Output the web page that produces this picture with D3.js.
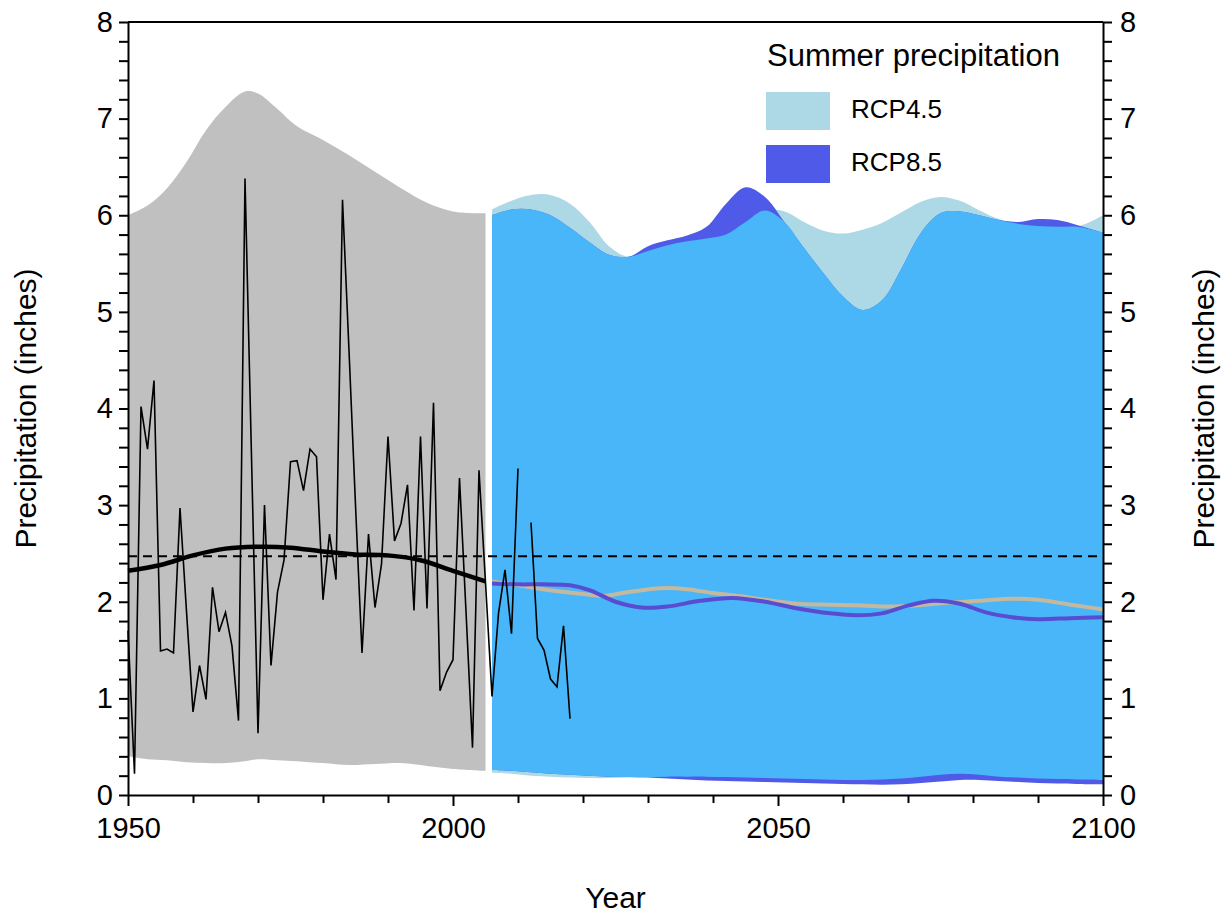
<!DOCTYPE html>
<html>
<head>
<meta charset="utf-8">
<script src="https://cdn.jsdelivr.net/npm/d3@7"></script>
<style>
  body { margin: 0; background: #fff; }
  svg { display: block; font-family: "Liberation Sans", Arial, sans-serif; }
  .axis text { font-size: 29px; fill: #000; font-family: "Liberation Sans", Arial, sans-serif; }
  .axis line, .axis path { stroke: #000; stroke-width: 2; }
  .axis-title { font-size: 30px; fill: #000; }
</style>
</head>
<body>
<div id="chart"></div>
<script>
// Summer precipitation: observed record, historical model range and RCP projections

const WIDTH = 1230
const HEIGHT = 915
const MARGIN = { top: 22, right: 127, bottom: 120, left: 128 }

// observed summer precipitation (inches), 2011 missing
const obsYears = d3.range(1950, 2019)
const obsValues = [
  1.70, 0.22, 4.02, 3.58, 4.29, 1.49, 1.51, 1.47, 2.97, 1.90,
  0.86, 1.34, 0.99, 2.15, 1.69, 1.89, 1.54, 0.77, 6.38, 3.50,
  0.64, 3.00, 1.34, 2.10, 2.43, 3.45, 3.46, 3.15, 3.58, 3.50,
  2.02, 2.70, 2.23, 6.16, 4.60, 3.00, 1.47, 2.70, 1.94, 2.39,
  3.71, 2.63, 2.81, 3.21, 1.91, 3.71, 1.93, 4.06, 1.08, 1.27,
  1.40, 3.28, 1.90, 0.49, 3.36, 2.20, 1.02, 1.88, 2.33, 1.67,
  3.38, null, 2.82, 1.62, 1.50, 1.20, 1.12, 1.75, 0.79
]
const obsMean = 2.47

// historical model range and smoothed observations
const histYears = [1950, 1953, 1956, 1959, 1962, 1965, 1968, 1970, 1973, 1976, 1980, 1984, 1988, 1992, 1996, 2000, 2005]
const histHigh = [6.00, 6.10, 6.28, 6.55, 6.88, 7.12, 7.28, 7.26, 7.10, 6.92, 6.78, 6.62, 6.45, 6.28, 6.13, 6.04, 6.02]
const histLow = [0.40, 0.37, 0.36, 0.34, 0.33, 0.33, 0.35, 0.37, 0.36, 0.35, 0.33, 0.31, 0.32, 0.33, 0.30, 0.27, 0.25]
const smoothYears = [1950, 1955, 1960, 1965, 1970, 1975, 1980, 1985, 1990, 1995, 2000, 2005]
const smoothValues = [2.32, 2.38, 2.48, 2.55, 2.57, 2.56, 2.52, 2.49, 2.48, 2.43, 2.32, 2.21]

// projected ranges
const futYears = [2006, 2009, 2012, 2015, 2018, 2021, 2024, 2027, 2030, 2033, 2036, 2039, 2042, 2045, 2048, 2051,
  2054, 2057, 2060, 2063, 2066, 2069, 2072, 2075, 2078, 2081, 2084, 2087, 2090, 2093, 2096, 2100]
const rcp45High = [6.06, 6.15, 6.21, 6.21, 6.12, 5.93, 5.68, 5.57, 5.63, 5.69, 5.73, 5.76, 5.80, 5.93, 6.05, 6.04,
  5.93, 5.84, 5.81, 5.85, 5.92, 6.03, 6.14, 6.19, 6.15, 6.05, 5.96, 5.91, 5.89, 5.88, 5.88, 6.00]
const rcp45Low = [0.23, 0.22, 0.20, 0.19, 0.18, 0.175, 0.175, 0.18, 0.185, 0.19, 0.19, 0.19, 0.185, 0.18, 0.175, 0.17,
  0.165, 0.16, 0.155, 0.155, 0.16, 0.17, 0.19, 0.21, 0.22, 0.21, 0.19, 0.18, 0.17, 0.165, 0.16, 0.155]
const rcp85High = [6.00, 6.06, 6.06, 6.00, 5.87, 5.72, 5.59, 5.57, 5.68, 5.74, 5.79, 5.88, 6.12, 6.29, 6.19, 5.93,
  5.66, 5.40, 5.16, 5.02, 5.12, 5.45, 5.82, 6.02, 6.04, 6.00, 5.95, 5.93, 5.96, 5.95, 5.90, 5.82]
const rcp85Low = [0.26, 0.25, 0.235, 0.22, 0.21, 0.20, 0.19, 0.185, 0.18, 0.17, 0.16, 0.15, 0.145, 0.14, 0.135, 0.13,
  0.125, 0.12, 0.115, 0.11, 0.105, 0.11, 0.125, 0.14, 0.155, 0.155, 0.145, 0.135, 0.125, 0.12, 0.115, 0.11]

// projected medians
const rcp45MedYears = [2006, 2010, 2015, 2020, 2023, 2027, 2032, 2036, 2040, 2044, 2048, 2053, 2058, 2063, 2067, 2071, 2076, 2081, 2086, 2090, 2095, 2100]
const rcp45Median = [2.21, 2.17, 2.12, 2.08, 2.06, 2.10, 2.14, 2.13, 2.09, 2.06, 2.02, 1.98, 1.97, 1.96, 1.95, 1.96, 1.99, 2.01, 2.03, 2.02, 1.97, 1.92]
const rcp85MedYears = [2006, 2010, 2014, 2018, 2021, 2025, 2029, 2033, 2038, 2043, 2048, 2053, 2058, 2062, 2066, 2070, 2074, 2078, 2082, 2086, 2090, 2095, 2100]
const rcp85Median = [2.19, 2.18, 2.18, 2.17, 2.12, 2.00, 1.94, 1.95, 2.01, 2.04, 2.00, 1.93, 1.88, 1.86, 1.88, 1.96, 2.01, 1.98, 1.89, 1.84, 1.82, 1.83, 1.84]

const COLORS = {
  hist: "#c0c0c0",
  rcp45: "#add8e6",
  rcp85: "#4f5be8",
  both: "#48b6f8",
  med45: "#c4b89e",
  med85: "#5a4cd0"
}

const svg = d3.select("#chart")
  .append("svg")
  .attr("width", WIDTH)
  .attr("height", HEIGHT)

const x = d3.scaleLinear()
  .domain([1950, 2100])
  .range([MARGIN.left, WIDTH - MARGIN.right])

const y = d3.scaleLinear()
  .domain([0, 8])
  .range([HEIGHT - MARGIN.bottom, MARGIN.top])

const smoothCurve = d3.curveCatmullRom.alpha(0.5)

// bands
const band = d3.area()
  .x(d => x(d.year))
  .y0(d => y(d.lo))
  .y1(d => y(d.hi))
  .curve(smoothCurve)

const histBand = histYears.map((yr, i) => ({ year: yr, lo: histLow[i], hi: histHigh[i] }))
const band45 = futYears.map((yr, i) => ({ year: yr, lo: rcp45Low[i], hi: rcp45High[i] }))
const band85 = futYears.map((yr, i) => ({ year: yr, lo: rcp85Low[i], hi: rcp85High[i] }))
const bandBoth = futYears.map((yr, i) => ({
  year: yr,
  lo: Math.max(rcp45Low[i], rcp85Low[i]),
  hi: Math.min(rcp45High[i], rcp85High[i])
}))

svg.append("path").datum(histBand).attr("d", band).attr("fill", COLORS.hist)
svg.append("path").datum(band45).attr("d", band).attr("fill", COLORS.rcp45)
svg.append("path").datum(band85).attr("d", band).attr("fill", COLORS.rcp85)
svg.append("path").datum(bandBoth).attr("d", band).attr("fill", COLORS.both)

// mean of observations
svg.append("line")
  .attr("x1", x(1950)).attr("x2", x(2100))
  .attr("y1", y(obsMean)).attr("y2", y(obsMean))
  .attr("stroke", "#000")
  .attr("stroke-width", 2)
  .attr("stroke-dasharray", "9,6")

const smoothLine = d3.line()
  .x(d => x(d[0]))
  .y(d => y(d[1]))
  .curve(smoothCurve)

svg.append("path")
  .datum(rcp45MedYears.map((yr, i) => [yr, rcp45Median[i]]))
  .attr("d", smoothLine)
  .attr("fill", "none")
  .attr("stroke", COLORS.med45)
  .attr("stroke-width", 4)

svg.append("path")
  .datum(rcp85MedYears.map((yr, i) => [yr, rcp85Median[i]]))
  .attr("d", smoothLine)
  .attr("fill", "none")
  .attr("stroke", COLORS.med85)
  .attr("stroke-width", 4)

svg.append("path")
  .datum(smoothYears.map((yr, i) => [yr, smoothValues[i]]))
  .attr("d", smoothLine)
  .attr("fill", "none")
  .attr("stroke", "#000")
  .attr("stroke-width", 4.5)

// yearly observations
const obsLine = d3.line()
  .defined(d => d[1] !== null)
  .x(d => x(d[0]))
  .y(d => y(d[1]))

svg.append("path")
  .datum(obsYears.map((yr, i) => [yr, obsValues[i]]))
  .attr("d", obsLine)
  .attr("fill", "none")
  .attr("stroke", "#000")
  .attr("stroke-width", 1.6)
  .attr("stroke-linejoin", "miter")

// axes
const xAxis = d3.axisBottom(x)
  .tickValues(d3.range(1950, 2101, 10))
  .tickFormat(d => d % 50 === 0 ? d : "")
  .tickSize(8)
  .tickSizeOuter(0)

const gx = svg.append("g")
  .attr("class", "axis")
  .attr("transform", `translate(0, ${HEIGHT - MARGIN.bottom})`)
  .call(xAxis)
gx.selectAll(".tick line").attr("y2", d => d % 50 === 0 ? 11 : 8)
gx.selectAll(".tick text").attr("y", 22).attr("font-size", 30)

const yTicks = d3.range(0, 41).map(k => k / 5)
const yFormat = d => Math.abs(d - Math.round(d)) < 1e-6 ? d3.format("d")(Math.round(d)) : ""

svg.append("g")
  .attr("class", "axis")
  .attr("transform", `translate(${MARGIN.left}, 0)`)
  .call(d3.axisLeft(y).tickValues(yTicks).tickFormat(yFormat).tickSize(9).tickPadding(6).tickSizeOuter(0))

svg.append("g")
  .attr("class", "axis")
  .attr("transform", `translate(${WIDTH - MARGIN.right}, 0)`)
  .call(d3.axisRight(y).tickValues(yTicks).tickFormat(yFormat).tickSize(9).tickPadding(8).tickSizeOuter(0))

// top border
svg.append("line")
  .attr("x1", x(1950)).attr("x2", x(2100))
  .attr("y1", y(8)).attr("y2", y(8))
  .attr("stroke", "#000")
  .attr("stroke-width", 2)

// axis titles
const midY = (y(0) + y(8)) / 2
svg.append("text")
  .attr("class", "axis-title")
  .attr("text-anchor", "middle")
  .attr("transform", `translate(36, ${midY}) rotate(-90)`)
  .text("Precipitation (inches)")

svg.append("text")
  .attr("class", "axis-title")
  .attr("text-anchor", "middle")
  .attr("transform", `translate(1214, ${midY}) rotate(-90)`)
  .text("Precipitation (inches)")

svg.append("text")
  .attr("class", "axis-title")
  .attr("text-anchor", "middle")
  .attr("x", (x(1950) + x(2100)) / 2)
  .attr("y", 908)
  .text("Year")

// legend
const legendItems = [
  { label: "RCP4.5", color: COLORS.rcp45 },
  { label: "RCP8.5", color: COLORS.rcp85 }
]

const legend = svg.append("g").attr("transform", "translate(766, 0)")
legend.append("text")
  .attr("x", 1)
  .attr("y", 66)
  .attr("font-size", 31)
  .text("Summer precipitation")

legend.selectAll("rect")
  .data(legendItems)
  .join("rect")
  .attr("x", 0)
  .attr("y", (d, i) => 92 + 53 * i)
  .attr("width", 64)
  .attr("height", 38)
  .attr("fill", d => d.color)

legend.selectAll("text.legend-label")
  .data(legendItems)
  .join("text")
  .attr("class", "legend-label")
  .attr("x", 85)
  .attr("y", (d, i) => 118 + 53 * i)
  .attr("font-size", 26)
  .text(d => d.label)
</script>
</body>
</html>
